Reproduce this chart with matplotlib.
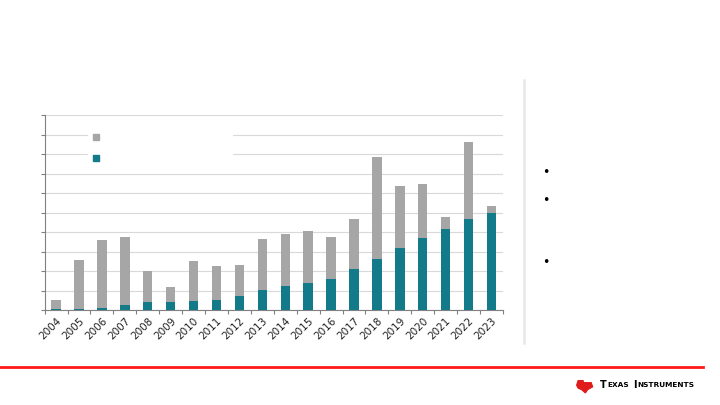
import matplotlib
matplotlib.use('Agg')
import matplotlib.pyplot as plt
from matplotlib.lines import Line2D
from matplotlib.patches import Polygon

# ===== data =====
years = [str(y) for y in range(2004, 2024)]
teal_vals = [0.05, 0.07, 0.12, 0.27, 0.39, 0.43, 0.48, 0.53, 0.70, 1.04,
             1.22, 1.39, 1.61, 2.11, 2.60, 3.20, 3.71, 4.18, 4.67, 5.00]
total_vals = [0.50, 2.57, 3.58, 3.73, 2.00, 1.18, 2.50, 2.26, 2.31, 3.66,
              3.89, 4.04, 3.75, 4.69, 7.86, 6.35, 6.47, 4.76, 8.61, 5.33]
gray_vals = [t - b for t, b in zip(total_vals, teal_vals)]
y_ticks = list(range(0, 11))

GRAY = '#a6a6a6'
TEAL = '#137a89'

fig = plt.figure(figsize=(7.2, 4.05), dpi=100)
ax = fig.add_axes([0.062, 0.2346, 0.6366, 0.4807])

x = range(len(years))
ax.bar(x, teal_vals, width=0.41, color=TEAL, zorder=3)
ax.bar(x, gray_vals, bottom=teal_vals, width=0.41, color=GRAY, zorder=3)

ax.set_xlim(-0.5, len(years) - 0.5)
ax.set_ylim(0, 10)
ax.set_yticks(y_ticks)
ax.set_yticklabels([])
ax.tick_params(axis='y', length=3, color='#808080', width=0.8)
ax.grid(axis='y', color='#d9d9d9', linewidth=0.8, zorder=0)

ax.set_xticks(list(x))
ax.set_xticklabels(years, rotation=45, ha='right', rotation_mode='anchor',
                   fontsize=7.5, color='#222222')
ax.set_xticks([i + 0.5 for i in range(-1, len(years))], minor=True)
ax.tick_params(axis='x', which='major', length=0, pad=4)
ax.tick_params(axis='x', which='minor', length=3, color='#808080', width=0.8)

for s in ['top', 'right']:
    ax.spines[s].set_visible(False)
for s in ['left', 'bottom']:
    ax.spines[s].set_color('#808080')
    ax.spines[s].set_linewidth(0.8)

handles = [Line2D([], [], ls='none', marker='s', ms=4.5, color=GRAY),
           Line2D([], [], ls='none', marker='s', ms=4.5, color=TEAL)]
leg = ax.legend(handles, ['', ''], loc='upper left', bbox_to_anchor=(0.082, 0.96),
                frameon=True, facecolor='white', edgecolor='white',
                framealpha=1, fontsize=8, handlelength=0.6,
                handletextpad=11.6, labelspacing=1.0, borderpad=0.4,
                fancybox=False)
leg.set_zorder(5)

# right-hand panel divider and bullets
fig.add_artist(Line2D([0.728, 0.728], [0.153, 0.8025], color='#e8e8e8', lw=1.8))
for yb in [0.575, 0.504, 0.351]:
    fig.text(0.758, yb, '\u2022', fontsize=9, ha='center', va='center', color='black')

# footer
fig.add_artist(Line2D([0.0, 0.977], [0.094, 0.094], color='#ff1a1a', lw=2))
fig.text(0.833, 0.049, 'T', fontsize=7, fontweight='bold', ha='left', va='center')
fig.text(0.8435, 0.049, 'EXAS', fontsize=5.3, fontweight='bold', ha='left', va='center')
fig.text(0.879, 0.049, 'I', fontsize=7, fontweight='bold', ha='left', va='center')
fig.text(0.885, 0.049, 'NSTRUMENTS', fontsize=5.3, fontweight='bold', ha='left', va='center')
texas = [(0.803, 0.060), (0.810, 0.060), (0.810, 0.055), (0.821, 0.055),
         (0.823, 0.045), (0.816, 0.038), (0.813, 0.030), (0.808, 0.038),
         (0.803, 0.042), (0.801, 0.049)]
fig.add_artist(Polygon(texas, closed=True, color='#e01b1b', transform=fig.transFigure))

fig.savefig('out.png', dpi=100)
